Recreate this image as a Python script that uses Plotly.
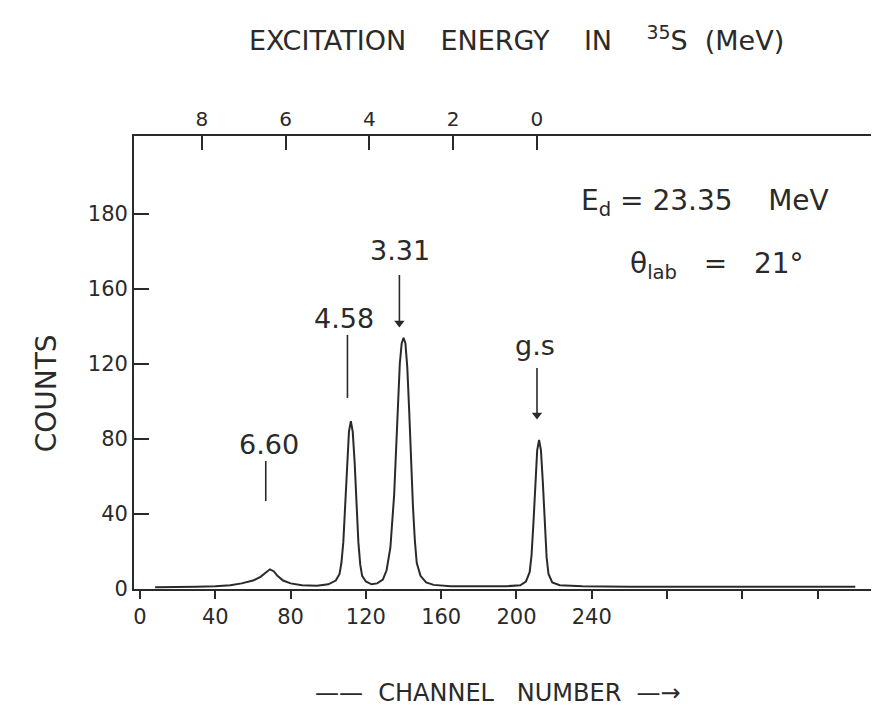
import plotly.graph_objects as go

# ---- data ----
channel = [8, 20, 30, 40, 48, 54, 60, 64, 67, 69, 71, 73, 76, 80, 86, 94,
           100, 104, 106, 107, 108, 109, 110, 111, 112, 113, 114, 115, 116, 117, 118, 120,
           123, 126, 129, 131, 133, 135, 136, 137, 138, 139, 140, 141, 142, 143, 144, 145,
           146, 147, 149, 152, 156, 165, 180, 195, 202, 205, 207, 208, 209, 210, 211, 212,
           213, 214, 215, 216, 217, 219, 223, 235, 260, 300, 340, 380]
counts = [1.0, 1.0, 1.2, 1.5, 2.0, 3.0, 4.5, 6.5, 9.0, 10.5, 9.5, 7.0, 4.5, 3.0, 2.0, 1.8,
          2.5, 4.5, 8, 14, 25, 45, 68, 84, 89.5, 84, 68, 45, 25, 13, 7, 4,
          2.5, 3, 5, 10, 22, 50, 72, 98, 120, 131, 134, 131, 118, 95, 68, 44,
          26, 14, 7, 3.5, 2.2, 1.5, 1.5, 1.5, 2, 4, 9, 18, 35, 58, 74, 79.5,
          74, 57, 34, 17, 8, 3.5, 2, 1.5, 1.2, 1.2, 1.2, 1.2]

x_tickvals = [0, 40, 80, 120, 160, 200, 240]
x_ticktext = ['0', '40', '80', '120', '160', '200', '240']
x_minor_ticks = [280, 320, 360]
# the top count label is printed as "180" in the original, at the 200 position
y_tickvals = [0, 40, 80, 120, 160, 200]
y_ticktext = ['0', '40', '80', '120', '160', '180']
ex_tickvals = [8, 6, 4, 2, 0]
ex_ticktext = ['8', '6', '4', '2', '0']

peak_names = ['6.60', '4.58', '3.31', 'g.s']
peak_label_ch = [68.3, 108.1, 138.3, 209.9]
peak_label_cnt = [77.3, 144.5, 180.3, 130.1]
arrow_ch = [66.8, 110.2, 137.8, 210.9]
arrow_top = [68.3, 135.5, 167.5, 117.9]
arrow_tip = [46.9, 101.9, 141.9, 92.8]
arrow_has_head = [False, False, True, True]

ink = '#2a2a2a'
font_family = 'DejaVu Sans, Liberation Sans, sans-serif'

fig = go.Figure()
fig.add_trace(go.Scatter(x=channel, y=counts, mode='lines',
                         line=dict(color=ink, width=2), showlegend=False,
                         hoverinfo='skip'))

# marker lines above the peaks
seg_x, seg_y = [], []
for cx, top, tip in zip(arrow_ch, arrow_top, arrow_tip):
    seg_x += [cx, cx, None]
    seg_y += [top, tip, None]
fig.add_trace(go.Scatter(x=seg_x, y=seg_y, mode='lines',
                         line=dict(color=ink, width=1.6), showlegend=False,
                         hoverinfo='skip'))
head_x = [cx for cx, h in zip(arrow_ch, arrow_has_head) if h]
head_y = [tp for tp, h in zip(arrow_tip, arrow_has_head) if h]
fig.add_trace(go.Scatter(x=head_x, y=head_y, mode='markers',
                         marker=dict(symbol='triangle-down', size=9, color=ink),
                         showlegend=False, hoverinfo='skip'))

# invisible trace to activate the top (excitation energy) axis
fig.add_trace(go.Scatter(x=ex_tickvals, y=[0] * len(ex_tickvals), xaxis='x2',
                         mode='markers', marker=dict(opacity=0), showlegend=False,
                         hoverinfo='skip'))

annotations = []
for name, lx, ly in zip(peak_names, peak_label_ch, peak_label_cnt):
    annotations.append(dict(x=lx, y=ly, xref='x', yref='y', text=name,
                            showarrow=False, xanchor='center', yanchor='middle',
                            font=dict(size=27, color=ink, family=font_family)))

nb = '\u00a0'
annotations += [
    dict(x=0.515, y=1.215, xref='paper', yref='paper', showarrow=False,
         xanchor='center', yanchor='middle',
         text=f'EXCITATION{nb*4}ENERGY{nb*4}IN{nb*4}<sup>35</sup>S{nb*2}(MeV)',
         font=dict(size=27, color=ink, family=font_family)),
    dict(x=0.77, y=0.854, xref='paper', yref='paper', showarrow=False,
         xanchor='center', yanchor='middle',
         text=f'E<sub>d</sub>{nb}={nb}23.35{nb*4}MeV',
         font=dict(size=28, color=ink, family=font_family)),
    dict(x=0.786, y=0.715, xref='paper', yref='paper', showarrow=False,
         xanchor='center', yanchor='middle',
         text=f'θ<sub>lab</sub>{nb*3}={nb*3}21°',
         font=dict(size=28, color=ink, family=font_family)),
    dict(x=0.49, y=-0.23, xref='paper', yref='paper', showarrow=False,
         xanchor='center', yanchor='middle',
         text=f'——{nb*2}CHANNEL{nb*3}NUMBER{nb*2}—→',
         font=dict(size=24, color=ink, family=font_family)),
    dict(x=-0.118, y=0.433, xref='paper', yref='paper', showarrow=False,
         xanchor='center', yanchor='middle',
         text='COUNTS', textangle=-90,
         font=dict(size=28, color=ink, family=font_family)),
]

fig.update_layout(
    width=879, height=713,
    margin=dict(l=126, r=9, t=128, b=132),
    paper_bgcolor='white', plot_bgcolor='white',
    font=dict(family=font_family, color=ink, size=20),
    annotations=annotations,
    xaxis=dict(range=[-3.2, 391], tickvals=x_tickvals, ticktext=x_ticktext,
               ticks='outside', ticklen=8, tickcolor=ink, tickwidth=1.5,
               minor=dict(tickvals=x_minor_ticks, ticks='outside', ticklen=8,
                          tickcolor=ink, tickwidth=1.5, showgrid=False),
               showline=True, linecolor=ink, linewidth=1.8, mirror=False,
               showgrid=False, zeroline=False, tickfont=dict(size=21)),
    xaxis2=dict(range=[9.62, -8.1], overlaying='x', side='top',
                tickvals=ex_tickvals, ticktext=ex_ticktext,
                ticks='inside', ticklen=14, tickcolor=ink, tickwidth=1.5,
                showline=True, linecolor=ink, linewidth=1.8,
                showgrid=False, zeroline=False, tickfont=dict(size=20)),
    yaxis=dict(range=[0, 241.6], tickvals=y_tickvals, ticktext=y_ticktext,
               ticks='inside', ticklen=15, tickcolor=ink, tickwidth=1.5,
               showline=True, linecolor=ink, linewidth=1.8, mirror=True,
               showgrid=False, zeroline=False, tickfont=dict(size=21)),
    shapes=[dict(type='line', xref='paper', yref='paper', x0=1, x1=1, y0=0, y1=1,
                 line=dict(color=ink, width=1.8))],
)

fig.write_html('out.html')
